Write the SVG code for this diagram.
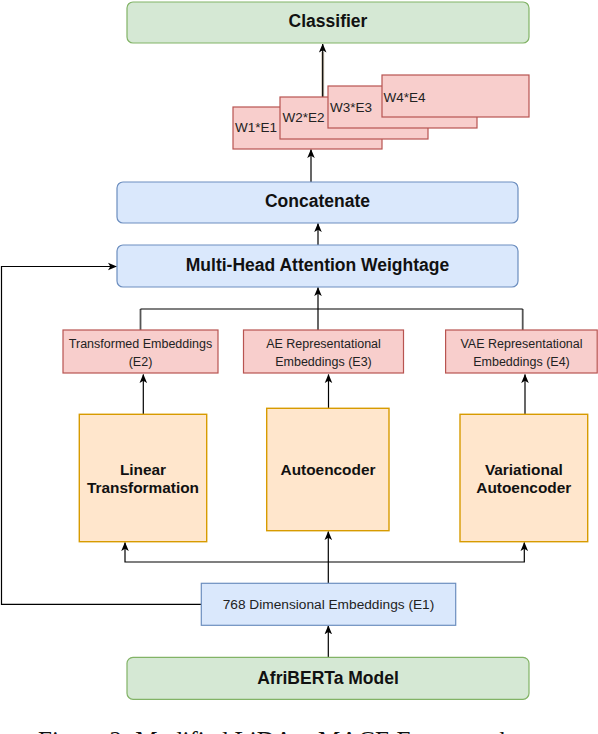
<svg xmlns="http://www.w3.org/2000/svg" width="598" height="734" viewBox="0 0 598 734">
<defs>
<marker id="arr" viewBox="0 0 10 10" refX="9.5" refY="5" markerWidth="9" markerHeight="9" markerUnits="userSpaceOnUse" orient="auto">
<path d="M0,0.8 L10,5 L0,9.2 L2.6,5 z" fill="#000"/>
</marker>
<style>
.green{fill:#d5e8d4;stroke:#82b366;stroke-width:1.2}
.blue{fill:#dae8fc;stroke:#6c8ebf;stroke-width:1.2}
.red{fill:#f8cecc;stroke:#b85450;stroke-width:1.2}
.orange{fill:#ffe6cc;stroke:#d79b00;stroke-width:1.4}
.big{font-family:"Liberation Sans",Arial,sans-serif;font-weight:bold;font-size:17.5px;fill:#111;text-anchor:middle}
.mid{font-family:"Liberation Sans",Arial,sans-serif;font-weight:bold;font-size:15.4px;fill:#111;text-anchor:middle}
.sm{font-family:"Liberation Sans",Arial,sans-serif;font-size:12.5px;fill:#222;text-anchor:middle}
.w{font-family:"Liberation Sans",Arial,sans-serif;font-size:13.5px;fill:#222}
.e1{font-family:"Liberation Sans",Arial,sans-serif;font-size:13.7px;fill:#222;text-anchor:middle}
.cap{font-family:"Liberation Serif","Times New Roman",serif;font-size:25px;fill:#111}
.c{fill:none;stroke:#000;stroke-width:1.2}
.g{fill:none;stroke:#555;stroke-width:1.8}
</style>
</defs>

<g id="connectors">
<!-- W2 to Classifier -->
<line x1="322.7" y1="97" x2="322.7" y2="52" stroke="#cfc6b6" stroke-width="3"/>
<line x1="322.7" y1="97" x2="322.7" y2="44" class="c" marker-end="url(#arr)"/>
<!-- Concatenate to W1 -->
<line x1="311" y1="182" x2="311" y2="149.5" class="c" marker-end="url(#arr)"/>
<!-- MHA to Concatenate -->
<line x1="318" y1="245" x2="318" y2="223.5" class="c" marker-end="url(#arr)"/>
<!-- Embeddings to MHA -->
<path d="M140.5,330 V309" class="g"/>
<path d="M522.7,330 V309" class="g"/>
<path d="M140.5,309 H522.7" class="c"/>
<path d="M318,330 V287.5" class="c" marker-end="url(#arr)"/>
<!-- modules to embeddings -->
<line x1="143.3" y1="414" x2="143.3" y2="374.5" class="c" marker-end="url(#arr)"/>
<line x1="328.5" y1="408" x2="328.5" y2="374.5" class="c" marker-end="url(#arr)"/>
<line x1="525" y1="414" x2="525" y2="374.5" class="c" marker-end="url(#arr)"/>
<!-- E1 to modules -->
<path d="M328.3,583 V562 H125 V542.5" class="c" marker-end="url(#arr)"/>
<path d="M328.3,562 V531.5" class="c" marker-end="url(#arr)"/>
<path d="M328.3,562 H524.3 V542.5" class="c" marker-end="url(#arr)"/>
<!-- E1 loop to MHA -->
<path d="M201.3,604.3 H1.5 V266.5 H116.5" class="c" marker-end="url(#arr)"/>
<!-- AfriBERTa to E1 -->
<line x1="328.3" y1="657" x2="328.3" y2="625.8" class="c" marker-end="url(#arr)"/>
</g>

<g id="classifier">
<rect x="127" y="2" width="402" height="41" rx="6" class="green"/>
<text x="328" y="27.3" class="big">Classifier</text>
</g>

<g id="w1e1">
<rect x="233" y="107" width="149" height="42" class="red"/>
<text x="235" y="131.7" class="w">W1*E1</text>
</g>
<g id="w2e2">
<rect x="280" y="97" width="148" height="42" class="red"/>
<text x="282.5" y="121.7" class="w">W2*E2</text>
</g>
<g id="w3e3">
<rect x="328" y="86" width="149" height="42" class="red"/>
<text x="330" y="111.7" class="w">W3*E3</text>
</g>
<g id="w4e4">
<rect x="382" y="75" width="147" height="42" class="red"/>
<text x="383.5" y="101.7" class="w">W4*E4</text>
</g>

<g id="concatenate">
<rect x="117" y="182" width="401" height="41" rx="6" class="blue"/>
<text x="317.5" y="207" class="big">Concatenate</text>
</g>

<g id="mha">
<rect x="117" y="245" width="401" height="42" rx="6" class="blue"/>
<text x="317.5" y="271" class="big">Multi-Head Attention Weightage</text>
</g>

<g id="e2">
<rect x="63" y="330" width="155" height="43" class="red"/>
<text x="140.5" y="348.4" class="sm">Transformed Embeddings</text>
<text x="140.5" y="366.3" class="sm">(E2)</text>
</g>
<g id="e3">
<rect x="243.5" y="330" width="160" height="43" class="red"/>
<text x="323.5" y="348.4" class="sm">AE Representational</text>
<text x="323.5" y="366.3" class="sm">Embeddings (E3)</text>
</g>
<g id="e4">
<rect x="445.6" y="330" width="151.6" height="43" class="red"/>
<text x="521.5" y="348.4" class="sm">VAE Representational</text>
<text x="521.5" y="366.3" class="sm">Embeddings (E4)</text>
</g>

<g id="linear">
<rect x="79.3" y="414.3" width="127.4" height="127.4" class="orange"/>
<text x="143" y="474.5" class="mid">Linear</text>
<text x="143" y="492.7" class="mid">Transformation</text>
</g>
<g id="autoencoder">
<rect x="266.7" y="408.3" width="122.3" height="122.4" class="orange"/>
<text x="328" y="474.5" class="mid">Autoencoder</text>
</g>
<g id="vae">
<rect x="460" y="414.3" width="127.7" height="127.4" class="orange"/>
<text x="523.8" y="474.5" class="mid">Variational</text>
<text x="523.8" y="492.7" class="mid">Autoencoder</text>
</g>

<g id="e1">
<rect x="201.3" y="583.3" width="254.4" height="42" class="blue"/>
<text x="328.5" y="609.3" class="e1">768 Dimensional Embeddings (E1)</text>
</g>

<g id="afriberta">
<rect x="127" y="657.3" width="402" height="42" rx="6" class="green"/>
<text x="328" y="683.7" class="big">AfriBERTa Model</text>
</g>

<text x="38" y="748.5" class="cap">Figure 2: Modified LiDA + MACE Framework</text>
</svg>
